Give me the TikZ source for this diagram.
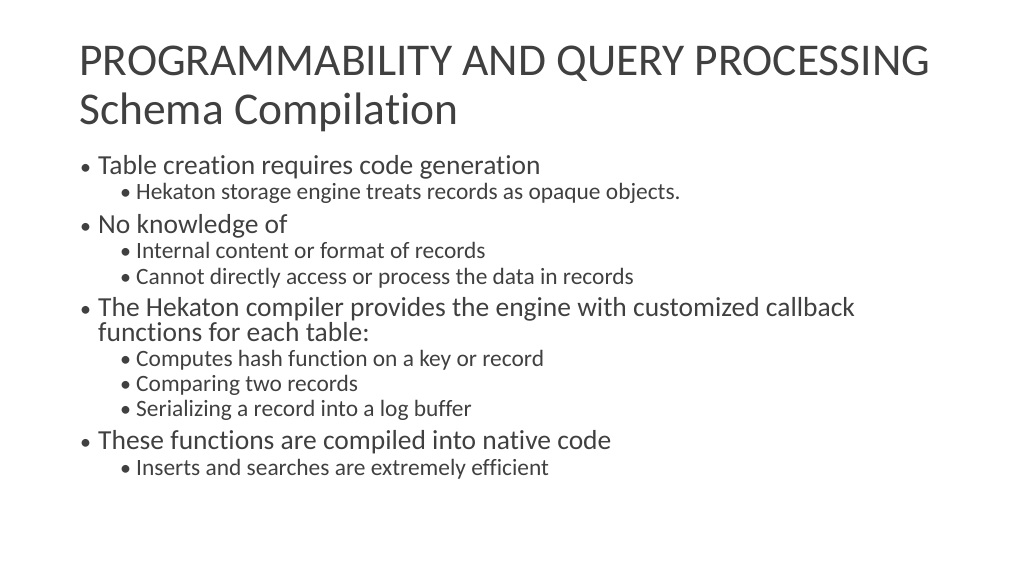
\documentclass[tikz,border=0pt]{standalone}
\usepackage{fontspec}
\setmainfont{Carlito}[RawFeature={-liga;-clig;-dlig}]
\begin{document}
\begin{tikzpicture}[x=1pt,y=-1pt,
  every node/.style={anchor=base west,inner sep=0pt,text=black!75},
  ttl/.style={font=\fontsize{45.5}{45}\selectfont},
  la/.style={font=\fontsize{27.5}{27}\selectfont},
  lb/.style={font=\fontsize{23.4}{23}\selectfont},
  bul/.style={font=\fontsize{22}{22}\selectfont}]
\useasboundingbox (0,0) rectangle (1024,576);
\node[ttl] (t1) at (79,75) {PROGRAMMABILITY AND QUERY PROCESSING};
\node[ttl] (t2) at (79,124) {Schema Compilation};
\newcommand{\ia}[3]{\node[bul] (#1b) at (80,#2) {•}; \node[la] (#1) at (98,#2) {#3};}
\newcommand{\ib}[3]{\node[bul] (#1b) at (120,#2) {•}; \node[lb] (#1) at (136,#2) {#3};}
\ia{a1}{174}{Table creation requires code generation}
\ib{b1}{199}{Hekaton storage engine treats records as opaque objects.}
\ia{a2}{233}{No knowledge of}
\ib{b2}{258}{Internal content or format of records}
\ib{b3}{284}{Cannot directly access or process the data in records}
\ia{a3}{316}{The Hekaton compiler provides the engine with customized callback}
\node[la] (a3x) at (98,341) {functions for each table:};
\ib{b4}{366}{Computes hash function on a key or record}
\ib{b5}{391}{Comparing two records}
\ib{b6}{416}{Serializing a record into a log buffer}
\ia{a4}{449}{These functions are compiled into native code}
\ib{b7}{475}{Inserts and searches are extremely efficient}
\end{tikzpicture}
\end{document}
